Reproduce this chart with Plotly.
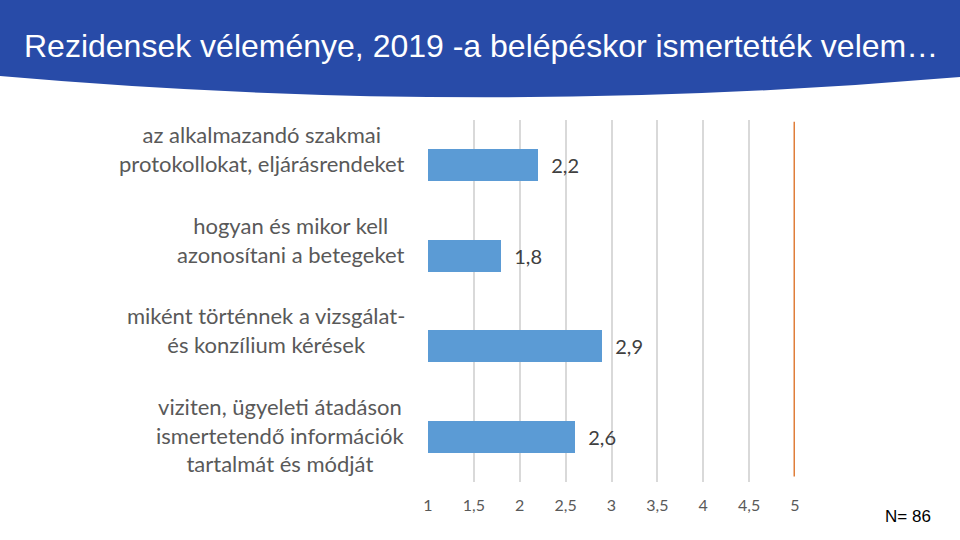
import plotly.graph_objects as go

categories = [
    "az alkalmazandó szakmai<br>protokollokat, eljárásrendeket",
    "hogyan és mikor kell<br>azonosítani a betegeket",
    "miként történnek a vizsgálat-<br>és konzílium kérések",
    "viziten, ügyeleti átadáson<br>ismertetendő információk<br>tartalmát és módját",
]
values = [2.2, 1.8, 2.9, 2.6]
value_labels = ["2,2", "1,8", "2,9", "2,6"]
target = 5
title_text = "Rezidensek véleménye, 2019 -a belépéskor ismertették velem…"
note_text = "N= 86"
x_ticks = [1, 1.5, 2, 2.5, 3, 3.5, 4, 4.5, 5]

W, H = 960, 540
L, R, T, B = 428, 795, 120, 482

def fx(px):
    return (px - L) / (R - L)

def fy(py):
    return (B - py) / (B - T)

ypos = list(range(len(categories)))

fig = go.Figure()
fig.add_trace(go.Bar(
    x=values, y=ypos, orientation="h", base=0,
    marker=dict(color="#5B9BD5", line=dict(width=0)),
    width=0.35,
    text=value_labels, texttemplate="\u00a0\u00a0%{text}", textposition="outside",
    textfont=dict(family="Lato", size=20, color="#404040"),
    cliponaxis=False, hoverinfo="skip",
))
fig.add_trace(go.Scatter(
    x=[target, target], y=[-0.48, 3.44], mode="lines",
    line=dict(color="#E07E3A", width=3), cliponaxis=False, hoverinfo="skip",
))

# header band
path = (f"M {fx(0)},{fy(0)} L {fx(960)},{fy(0)} L {fx(960)},{fy(77)} "
        f"Q {fx(480)},{fy(118)} {fx(0)},{fy(76)} Z")
fig.add_shape(type="path", path=path, xref="paper", yref="paper",
              fillcolor="#284BA8", line=dict(width=0), layer="above")

fig.add_annotation(x=fx(481), y=fy(46), xref="paper", yref="paper",
                   text=title_text, showarrow=False, xanchor="center", yanchor="middle",
                   font=dict(family="Liberation Sans", size=32, color="white"))

for i, c in enumerate(categories):
    fig.add_annotation(x=fx(407), y=i, xref="paper", yref="y", text=c,
                       showarrow=False, xanchor="right", yanchor="top", align="center",
                       yshift=46,
                       font=dict(family="Lato", size=22, color="#595959"))

fig.add_annotation(x=fx(933), y=fy(516), xref="paper", yref="paper", text=note_text,
                   showarrow=False, xanchor="right", yanchor="middle",
                   font=dict(family="Liberation Sans", size=17, color="black"))

fig.update_layout(
    width=W, height=H,
    margin=dict(l=L, r=W - R, t=T, b=H - B, pad=0),
    paper_bgcolor="white", plot_bgcolor="white",
    separators=", ",
    showlegend=False,
    bargap=0,
    xaxis=dict(range=[1, 5], tickvals=x_ticks, showgrid=True, gridcolor="#D9D9D9",
               gridwidth=1.5, zeroline=False, showline=False,
               tickfont=dict(family="Lato", size=16, color="#595959"),
               ticklabelstandoff=12),
    yaxis=dict(range=[3.5, -0.5], showticklabels=False, showgrid=False,
               zeroline=False, showline=False),
)

fig.write_html("out.html", config={"displayModeBar": False},
               post_script="document.body.style.margin='0';")
